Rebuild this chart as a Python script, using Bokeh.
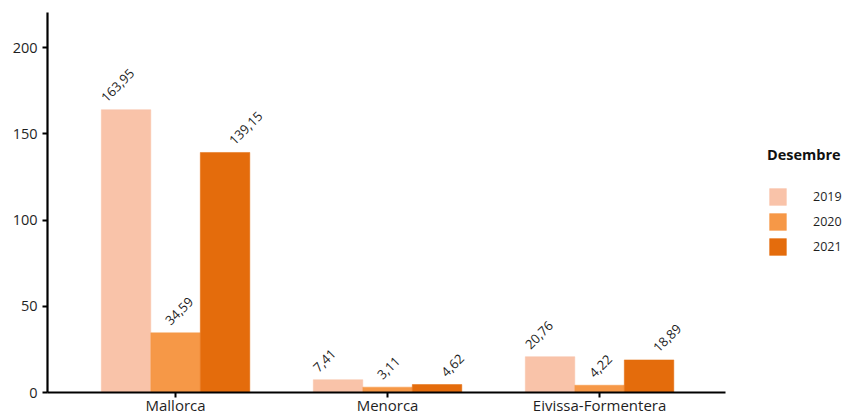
import math
from bokeh.plotting import figure
from bokeh.models import ColumnDataSource, Range1d, FixedTicker, Legend, LegendItem
from bokeh.core.properties import value
from bokeh.embed import file_html
from bokeh.resources import INLINE

categories = ["Mallorca", "Menorca", "Eivissa-Formentera"]
years = ["2019", "2020", "2021"]
v2019 = [163.95, 7.41, 20.76]
v2020 = [34.59, 3.11, 4.22]
v2021 = [139.15, 4.62, 18.89]
colors = ["#F9C3A9", "#F69847", "#E46C0C"]
legend_title = "Desembre"

FONT = "Open Sans"
TXT = "#1f1f1f"

W, H = 845, 417
LEFT, TOP, BOTTOM = 47, 12, 25
x0, x1 = -0.604, 2.594          # extent of the axis (data units)
px_per_unit = 212.0
x_end = x0 + (W - LEFT) / px_per_unit

p = figure(width=W, height=H, output_backend="svg", toolbar_location=None,
           x_range=Range1d(x0, x_end), y_range=Range1d(0, 220.3),
           min_border_left=LEFT, min_border_top=TOP, min_border_right=0,
           min_border_bottom=BOTTOM)
p.outline_line_color = None
p.xgrid.visible = False
p.ygrid.visible = False
p.background_fill_color = "white"
p.border_fill_color = "white"

bw = 0.2335
lo = 0.302
series = [v2019, v2020, v2021]
renderers = []
for k, (vals, col, yr) in enumerate(zip(series, colors, years)):
    xs = [i + (k - 1) * bw for i in range(len(categories))]
    src = ColumnDataSource(dict(x=xs, top=vals,
                                lx=[i + (k - 1) * lo for i in range(len(categories))],
                                lab=[("%.2f" % v).replace(".", ",") for v in vals]))
    r = p.vbar(x="x", top="top", width=bw, bottom=0, source=src,
               fill_color=col, line_color=col, line_width=0.5)
    renderers.append(r)
    p.text(x="lx", y="top", text="lab", source=src, angle=math.pi / 4,
           text_align="left", text_baseline="alphabetic",
           x_offset=-8, y_offset=-10,
           text_font=value(FONT), text_font_size="13px", text_color=TXT)

# axes
for ax in (p.xaxis[0], p.yaxis[0]):
    ax.axis_line_color = "black"
    ax.axis_line_width = 2.2
    ax.major_tick_line_color = "black"
    ax.major_tick_line_width = 2
    ax.major_tick_in = 0
    ax.major_tick_out = 5
    ax.minor_tick_line_color = None
    ax.major_label_text_font = FONT
    ax.major_label_text_color = TXT

p.xaxis.bounds = (x0, x1)
p.xaxis.ticker = FixedTicker(ticks=list(range(len(categories))))
p.xaxis.major_label_overrides = {i: c for i, c in enumerate(categories)}
p.xaxis.major_label_text_font_size = "15px"
p.xaxis.major_label_standoff = -3
p.yaxis.ticker = FixedTicker(ticks=[0, 50, 100, 150, 200])
p.yaxis.major_label_text_font_size = "14.5px"
p.yaxis.major_label_standoff = 5

items = [LegendItem(label=yr, renderers=[r]) for yr, r in zip(years, renderers)]
legend = Legend(items=items, title=legend_title, location=(720, 135),
                margin=0, padding=0, spacing=4,
                glyph_width=21, glyph_height=21, label_height=21,
                label_standoff=25, title_standoff=22,
                border_line_color=None, background_fill_alpha=0,
                label_text_font=FONT, label_text_font_size="12.5px",
                label_text_color=TXT,
                title_text_font=FONT, title_text_font_style="bold",
                title_text_font_size="14.5px", title_text_color="#111111")
p.add_layout(legend)

open("out.html", "w").write(file_html(p, INLINE))
